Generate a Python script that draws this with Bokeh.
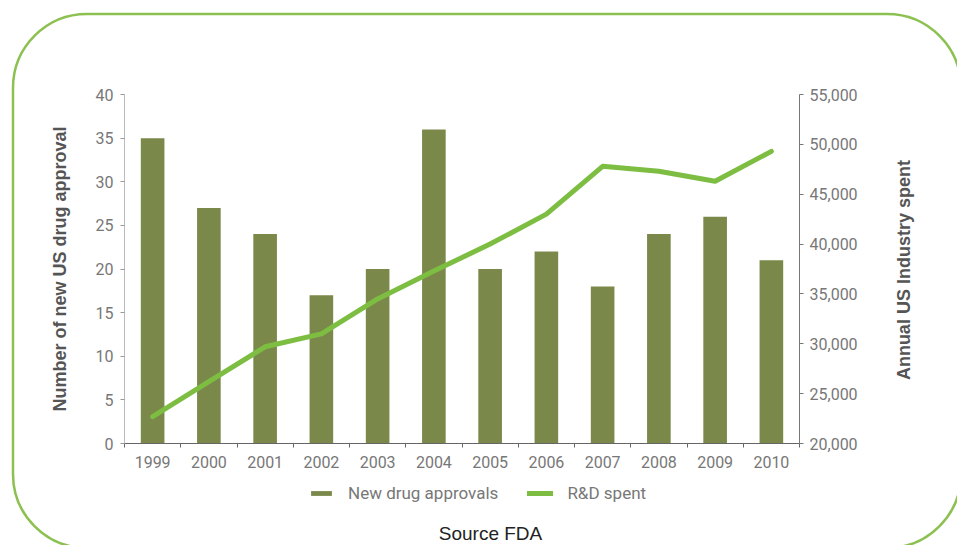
import math
from bokeh.plotting import figure
from bokeh.layouts import column, row
from bokeh.models import (Range1d, LinearAxis, FixedTicker, NumeralTickFormatter,
                          Legend, LegendItem, Label)
from bokeh.embed import file_html
from bokeh.resources import INLINE

# ---- data ----
years = [1999, 2000, 2001, 2002, 2003, 2004, 2005, 2006, 2007, 2008, 2009, 2010]
approvals = [35, 27, 24, 17, 20, 36, 20, 22, 18, 24, 26, 21]
rd_spent = [22700, 26200, 29700, 31000, 34500, 37300, 40000, 43000, 47800, 47300, 46300, 49300]
left_ticks = [0, 5, 10, 15, 20, 25, 30, 35, 40]
right_ticks = [20000, 25000, 30000, 35000, 40000, 45000, 50000, 55000]
cat_edges = [y - 0.5 for y in years] + [years[-1] + 0.5]
series_names = ["New drug approvals", "R&D spent"]

BAR_COLOR = "#7a894a"
LINE_COLOR = "#7dbe42"
TICK_FONT = "Roboto"
LABEL_FONT = "Liberation Sans"

# decorative rounded frame behind the (transparent) canvases
frame_svg = ("<svg xmlns='http://www.w3.org/2000/svg' width='957' height='545'>"
             "<rect x='13' y='14' width='948' height='534' rx='74' ry='74' "
             "fill='none' stroke='%238cc152' stroke-width='2.5'/></svg>")

# ---------------- main chart ----------------
p = figure(width=860, height=475, output_backend="svg", toolbar_location=None,
           x_range=Range1d(1998.5, 2010.5), y_range=Range1d(0, 40),
           min_border_left=124, min_border_right=60, min_border_top=94,
           min_border_bottom=32)
p.outline_line_color = None
p.grid.visible = False
p.background_fill_color = None
p.border_fill_color = None
p.extra_y_ranges = {"rd": Range1d(20000, 55000)}

bars = p.vbar(x=years, top=approvals, width=0.42, fill_color=BAR_COLOR,
              line_color=None)
line = p.line(x=years, y=rd_spent, y_range_name="rd", line_width=5,
              line_color=LINE_COLOR, line_cap="round", line_join="round")

xa = p.xaxis[0]
xa.ticker = FixedTicker(ticks=years, minor_ticks=cat_edges)
xa.major_tick_line_color = None
xa.major_tick_out = 0
xa.major_tick_in = 0
xa.minor_tick_out = 4
xa.minor_tick_in = 0
xa.minor_tick_line_color = "#666666"
xa.axis_line_color = "#666666"
xa.major_label_standoff = 8
xa.major_label_text_font = TICK_FONT
xa.major_label_text_font_size = "16px"
xa.major_label_text_color = "#777777"

ya = p.yaxis[0]
ya.ticker = FixedTicker(ticks=left_ticks)
ya.minor_tick_line_color = None
ya.major_tick_out = 4
ya.major_tick_in = 0
ya.major_tick_line_color = "#999999"
ya.axis_line_color = "#bbbbbb"
ya.major_label_standoff = 7
ya.major_label_text_font = TICK_FONT
ya.major_label_text_font_size = "16px"
ya.major_label_text_color = "#777777"
ya.axis_label = "Number of new US drug approval"
ya.axis_label_text_font = LABEL_FONT
ya.axis_label_text_font_style = "bold"
ya.axis_label_text_font_size = "18px"
ya.axis_label_text_color = "#555555"
ya.axis_label_standoff = 23

ra = LinearAxis(y_range_name="rd", ticker=FixedTicker(ticks=right_ticks),
                formatter=NumeralTickFormatter(format="0,0"))
ra.minor_tick_line_color = None
ra.major_tick_out = 4
ra.major_tick_in = 0
ra.major_tick_line_color = "#777777"
ra.axis_line_color = "#777777"
ra.major_label_standoff = 6
ra.major_label_text_font = TICK_FONT
ra.major_label_text_font_size = "16px"
ra.major_label_text_color = "#777777"
p.add_layout(ra, "right")

# ---------------- right axis title (reads bottom-to-top) ----------------
r = figure(width=97, height=475, output_backend="svg", toolbar_location=None,
           x_range=Range1d(0, 97), y_range=Range1d(0, 475),
           x_axis_type=None, y_axis_type=None, min_border=0,
           min_border_left=0, min_border_right=0, min_border_top=0,
           min_border_bottom=0)
r.outline_line_color = None
r.grid.visible = False
r.background_fill_color = None
r.border_fill_color = None
r.add_layout(Label(x=43.5, y=236, text="Annual US Industry spent",
                   angle=math.pi / 2, text_align="center", text_baseline="middle",
                   text_font=LABEL_FONT, text_font_style="bold",
                   text_font_size="18px", text_color="#555555"))

# ---------------- footer: legend + source ----------------
f = figure(width=957, height=70, output_backend="svg", toolbar_location=None,
           x_range=Range1d(0, 957), y_range=Range1d(0, 70),
           x_axis_type=None, y_axis_type=None, min_border=0,
           min_border_left=0, min_border_right=0, min_border_top=0,
           min_border_bottom=0)
f.outline_line_color = None
f.grid.visible = False
f.background_fill_color = None
f.border_fill_color = None
# legend proxies: same series, lying outside this strip's visible range
leg_bar = f.vbar(x=years, top=approvals, width=0.42, fill_color=BAR_COLOR,
                 line_color=None)
leg_line = f.line(x=years, y=rd_spent, line_width=5, line_color=LINE_COLOR,
                  line_cap="round")
legend = Legend(items=[LegendItem(label=series_names[0], renderers=[leg_bar]),
                       LegendItem(label=series_names[1], renderers=[leg_line])],
                orientation="horizontal", location=(308, 42),
                glyph_width=26, glyph_height=6, label_height=20,
                label_standoff=14, spacing=29, padding=0, margin=0,
                border_line_color=None, background_fill_alpha=0,
                label_text_font=TICK_FONT, label_text_font_size="17px",
                label_text_color="#777777")
f.add_layout(legend, "center")
f.add_layout(Label(x=490, y=12, text="Source FDA", text_align="center",
                   text_baseline="middle", text_font=LABEL_FONT,
                   text_font_size="19px", text_color="#222222"))

layout = column(row(p, r, spacing=0), f, spacing=0,
                styles={"background-image": f'url("data:image/svg+xml;utf8,{frame_svg}")',
                        "background-repeat": "no-repeat"})

open("out.html", "w").write(file_html(layout, INLINE))
